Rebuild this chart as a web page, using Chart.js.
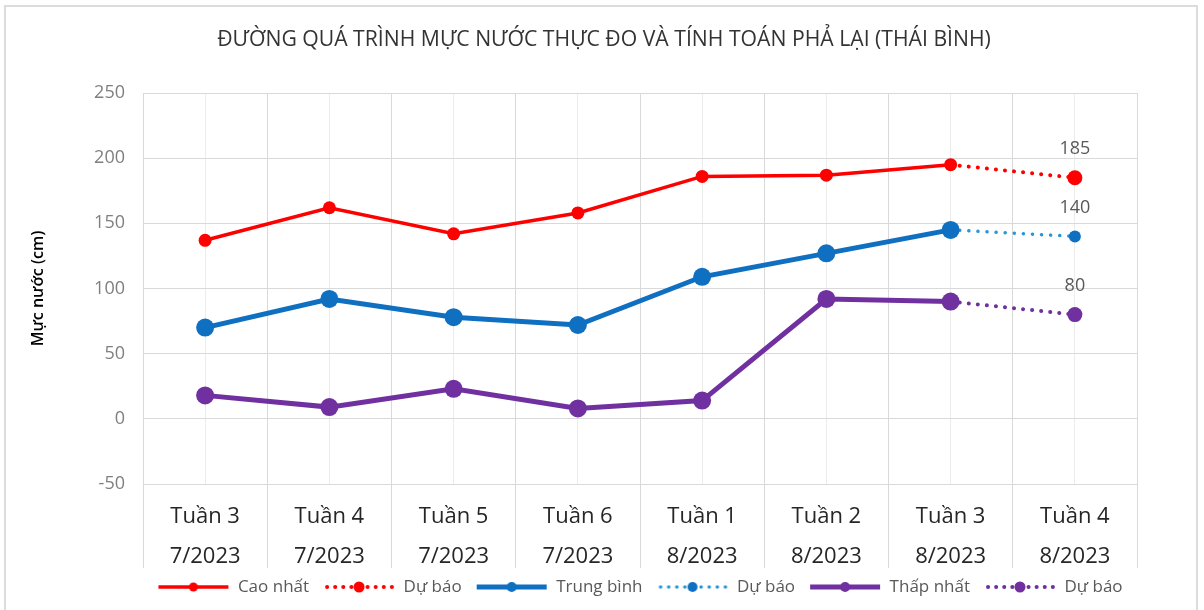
<!DOCTYPE html>
<html>
<head>
<meta charset="utf-8">
<script src="https://cdn.jsdelivr.net/npm/chart.js@4.4.1/dist/chart.umd.min.js"></script>
<style>
  html, body { margin: 0; padding: 0; background: #fff; }
  #wrap { position: relative; width: 1204px; height: 610px; overflow: hidden; }
  #frame { position: absolute; left: 4px; top: 5px; width: 1190px; height: 640px; border: 2px solid #dcdcdc; pointer-events: none; }
  canvas { position: absolute; left: 0; top: 0; }
</style>
</head>
<body>
<div id="wrap">
  <canvas id="chart" width="1204" height="610"></canvas>
  <div id="frame"></div>
</div>
<script>
// nhãn trục x (2 tầng)
const weeks = ['Tuần 3', 'Tuần 4', 'Tuần 5', 'Tuần 6', 'Tuần 1', 'Tuần 2', 'Tuần 3', 'Tuần 4'];
const months = ['7/2023', '7/2023', '7/2023', '7/2023', '8/2023', '8/2023', '8/2023', '8/2023'];

// mực nước (cm)
const caoNhat   = [137, 162, 142, 158, 186, 187, 195, null];
const duBaoCao  = [null, null, null, null, null, null, 195, 185];
const trungBinh = [70, 92, 78, 72, 109, 127, 145, null];
const duBaoTB   = [null, null, null, null, null, null, 145, 140];
const thapNhat  = [18, 9, 23, 8, 14, 92, 90, null];
const duBaoThap = [null, null, null, null, null, null, 90, 80];

const yMin = -50, yMax = 250, yStep = 50;

const RED = '#ff0000', BLUE = '#0f6fc0', BLUE_DOT = '#2a95d6', PURPLE = '#7030a0';
const FONT = '"Open Sans", "Noto Sans", sans-serif';

const labels = weeks.map((w, i) => [w, months[i]]);

const ICON_W = 72;

function legendIcon(color, lw, dotted, r, dotColor) {
    const c = document.createElement('canvas');
    c.width = ICON_W; c.height = 16;
    const g = c.getContext('2d');
    g.strokeStyle = color;
    g.lineWidth = lw;
    if (dotted) {
        g.lineCap = 'round';
        g.setLineDash([0.1, 8]);
    }
    g.beginPath();
    g.moveTo(dotted ? 4 : 1, 8);
    g.lineTo(dotted ? ICON_W - 3 : ICON_W - 1, 8);
    g.stroke();
    g.setLineDash([]);
    g.fillStyle = dotColor || color;
    g.beginPath();
    g.arc(ICON_W / 2, 8, r, 0, Math.PI * 2);
    g.fill();
    return c;
}

const icons = [
    legendIcon(RED, 3.5, false, 4.5),
    legendIcon(RED, 4, true, 5.5),
    legendIcon(BLUE, 5, false, 5),
    legendIcon(BLUE_DOT, 3.5, true, 5, BLUE),
    legendIcon(PURPLE, 5, false, 5),
    legendIcon(PURPLE, 4, true, 5.5)
];

const lastOnly = r => ctx => ctx.dataIndex === 7 ? r : 0;

const nhanDuBao = {
    id: 'nhanDuBao',
    afterDatasetsDraw(chart) {
        const ctx = chart.ctx;
        ctx.save();
        ctx.font = '18px ' + FONT;
        ctx.fillStyle = '#595959';
        ctx.textAlign = 'center';
        ctx.textBaseline = 'middle';
        [1, 3, 5].forEach(i => {
            const pt = chart.getDatasetMeta(i).data[7];
            ctx.fillText(chart.data.datasets[i].data[7], pt.x, pt.y - 29);
        });
        ctx.restore();
    }
};

const chart = new Chart(document.getElementById('chart'), {
    type: 'line',
    data: {
        labels: labels,
        datasets: [
            { label: 'Cao nhất', data: caoNhat, borderColor: RED, backgroundColor: RED,
              borderWidth: 3.5, pointRadius: 6.5, pointBorderWidth: 0 },
            { label: 'Dự báo', data: duBaoCao, borderColor: RED, backgroundColor: RED,
              borderWidth: 4, borderDash: [0.1, 9], borderCapStyle: 'round',
              pointRadius: lastOnly(7.5), pointBorderWidth: 0 },
            { label: 'Trung bình', data: trungBinh, borderColor: BLUE, backgroundColor: BLUE,
              borderWidth: 5, pointRadius: 9, pointBorderWidth: 0 },
            { label: 'Dự báo', data: duBaoTB, borderColor: BLUE_DOT, backgroundColor: BLUE,
              borderWidth: 3.5, borderDash: [0.1, 9], borderCapStyle: 'round',
              pointRadius: lastOnly(6), pointBorderWidth: 0 },
            { label: 'Thấp nhất', data: thapNhat, borderColor: PURPLE, backgroundColor: PURPLE,
              borderWidth: 5, pointRadius: 9, pointBorderWidth: 0 },
            { label: 'Dự báo', data: duBaoThap, borderColor: PURPLE, backgroundColor: PURPLE,
              borderWidth: 4, borderDash: [0.1, 9], borderCapStyle: 'round',
              pointRadius: lastOnly(7.5), pointBorderWidth: 0 }
        ]
    },
    options: {
        responsive: false,
        animation: false,
        layout: { padding: { left: 4, right: 0, top: 0, bottom: 4.5 } },
        plugins: {
            title: {
                display: true,
                text: 'ĐƯỜNG QUÁ TRÌNH MỰC NƯỚC THỰC ĐO VÀ TÍNH TOÁN PHẢ LẠI (THÁI BÌNH)',
                color: '#333333',
                font: { family: FONT, size: 21.2, weight: 'normal', lineHeight: 1.2 },
                padding: { top: 27.3, bottom: 40.3 }
            },
            legend: {
                position: 'bottom',
                fullSize: false,
                labels: {
                    usePointStyle: true,
                    pointStyleWidth: ICON_W,
                    boxHeight: 17,
                    padding: 14,
                    color: '#595959',
                    font: { family: FONT, size: 17 },
                    generateLabels(chart) {
                        const items = Chart.defaults.plugins.legend.labels.generateLabels(chart);
                        items.forEach((it, i) => { it.pointStyle = icons[i]; });
                        return items;
                    }
                }
            },
            tooltip: { enabled: false }
        },
        scales: {
            x: {
                type: 'category',
                position: 'bottom',
                offset: true,
                grid: { offset: true, color: '#d9d9d9', tickColor: '#d9d9d9', tickLength: 84, drawTicks: true },
                border: { display: true, color: '#d9d9d9' },
                ticks: {
                    padding: -71,
                    maxRotation: 0,
                    autoSkip: false,
                    color: '#262626',
                    font: { family: FONT, size: 22, lineHeight: '40px' }
                },
                afterFit(scale) { scale.height = 80.5; }
            },
            xc: {
                type: 'category',
                position: 'top',
                offset: true,
                grid: { offset: false, color: '#ececec', drawTicks: false },
                border: { display: false },
                ticks: { display: false },
                afterFit(scale) { scale.height = 0; }
            },
            y: {
                min: yMin,
                max: yMax,
                ticks: {
                    stepSize: yStep,
                    padding: 18,
                    color: '#7f7f7f',
                    font: { family: FONT, size: 18 }
                },
                grid: { color: '#d9d9d9', drawTicks: false },
                border: { display: false },
                title: {
                    display: true,
                    text: 'Mực nước (cm)',
                    color: '#000',
                    font: { family: FONT, size: 16, weight: '600', lineHeight: 1.2 },
                    padding: { top: 24.4, bottom: 0 }
                },
                afterFit(scale) { scale.width = 139; }
            },
            yR: {
                type: 'linear',
                position: 'right',
                display: true,
                grid: { display: false },
                border: { display: false },
                ticks: { display: false },
                afterFit(scale) { scale.width = 67; }
            }
        }
    },
    plugins: [nhanDuBao]
});
</script>
</body>
</html>
